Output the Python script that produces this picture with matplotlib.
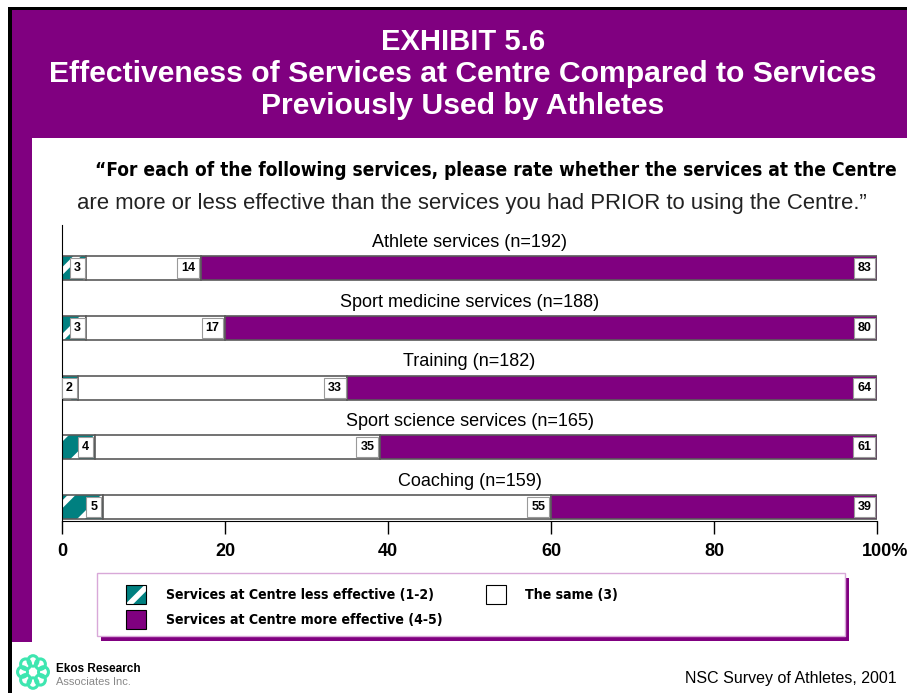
import matplotlib
matplotlib.use("Agg")
import matplotlib.pyplot as plt
from matplotlib.patches import Rectangle, Circle
from matplotlib.transforms import ScaledTranslation
from matplotlib import font_manager
import numpy as np

# data (percent of athletes)
services = ["Athlete services (n=192)", "Sport medicine services (n=188)",
            "Training (n=182)", "Sport science services (n=165)", "Coaching (n=159)"]
less = [3, 3, 2, 4, 5]
same = [14, 17, 33, 35, 55]
more = [83, 80, 64, 61, 39]
ticks = [0, 20, 40, 60, 80, 100]
tick_labels = ["0", "20", "40", "60", "80", "100%"]

PURPLE = "#800080"
TEAL = "#008080"
EDGE = "#5a5a5a"
W, H = 907, 693

plt.rcParams["font.family"] = ["Liberation Sans", "DejaVu Sans"]
plt.rcParams["hatch.color"] = "white"
plt.rcParams["hatch.linewidth"] = 4

# a narrow bold face if one is installed
fonts = font_manager.fontManager.ttflist
narrow = dict(family="Liberation Sans")
if any(f.name == "Liberation Sans Narrow" for f in fonts):
    narrow = dict(family="Liberation Sans Narrow")
elif any(f.name == "DejaVu Sans" and f.stretch == "condensed" for f in fonts):
    narrow = dict(family="DejaVu Sans", stretch="condensed")

fig = plt.figure(figsize=(W / 100, H / 100), dpi=100)


def px(x, y):
    # pixel position (from top-left) -> figure fraction
    return x / W, 1 - y / H


def box(x0, y0, x1, y1, **kw):
    r = Rectangle(px(x0, y1), (x1 - x0) / W, (y1 - y0) / H, transform=fig.transFigure, **kw)
    fig.add_artist(r)
    return r


def fit(t, width):
    r = fig.canvas.get_renderer()
    w = t.get_window_extent(r).width
    t.set_fontsize(t.get_fontsize() * width / w)


# frame
box(8, 7, W, 10, color="black", lw=0)
box(8, 7, 12, H, color="black", lw=0)
box(12, 10, W, 138, color=PURPLE, lw=0)
box(12, 138, 32, 642, color=PURPLE, lw=0)

# titles
fig.text(*px(463, 42), "EXHIBIT 5.6", color="white", fontsize=21, fontweight="bold", ha="center", va="center")
t = fig.text(*px(463, 74), "Effectiveness of Services at Centre Compared to Services", color="white",
             fontsize=21, fontweight="bold", ha="center", va="center")
fit(t, 827)
fig.text(*px(463, 106), "Previously Used by Athletes", color="white", fontsize=t.get_fontsize(),
         fontweight="bold", ha="center", va="center")

t = fig.text(*px(95, 171), "\u201cFor each of the following services, please rate whether the services at the Centre",
             fontsize=15, fontweight="bold", ha="left", va="center", **narrow)
fit(t, 802)
t = fig.text(*px(77, 203), "are more or less effective than the services you had PRIOR to using the Centre.\u201d",
             fontsize=13, ha="left", va="center", color="#222222")
fit(t, 785)

# chart
ax = fig.add_axes([62 / W, 1 - 521 / H, 815 / W, 296 / H])
y = np.arange(len(services))
left_more = np.array(less) + np.array(same)
ax.barh(y, less, height=0.4, color=TEAL, edgecolor="white", hatch="/", lw=0)
ax.barh(y, less, height=0.4, fill=False, edgecolor=EDGE, lw=1.2)
ax.barh(y, same, left=less, height=0.4, color="white", edgecolor=EDGE, lw=1.2)
# purple segment fills the rest of the bar up to 100%
ax.barh(y, 100 - left_more, left=left_more, height=0.4, color=PURPLE, edgecolor=EDGE, lw=1.2)

for i, name in enumerate(services):
    ax.text(50, i - 0.43, name, ha="center", va="center", fontsize=13)
    ends = [less[i], left_more[i], 100]
    for v, e in zip([less[i], same[i], more[i]], ends):
        ax.annotate(str(v), (e, i), xytext=(-4, 0), textcoords="offset points", ha="right", va="center",
                    fontsize=9, fontweight="bold",
                    bbox=dict(boxstyle="square,pad=0.32", fc="white", ec="#9a9a9a", lw=0.8))

ax.set_xlim(0, 100)
ax.set_ylim(4.23, -0.72)
ax.set_yticks([])
ax.set_xticks(ticks)
ax.set_xticklabels(tick_labels, fontsize=13, fontweight="bold")
ax.tick_params(axis="x", direction="out", length=9, width=1, pad=7)
for s in ["top", "right"]:
    ax.spines[s].set_visible(False)
lab = ax.get_xticklabels()[-1]
lab.set_horizontalalignment("left")
lab.set_transform(lab.get_transform() + ScaledTranslation(-0.155, 0, fig.dpi_scale_trans))

# legend
box(101, 578, 849, 641, color=PURPLE, lw=0)
box(97, 573, 845, 636, fc="white", ec="#d8a8d8", lw=1)
box(126, 585, 146, 604, fc=TEAL, ec="white", hatch="/", lw=0)
box(126, 585, 146, 604, fill=False, ec="black", lw=0.8)
box(486, 585, 506, 604, fc="white", ec="black", lw=0.8)
box(126, 610, 146, 629, fc=PURPLE, ec="black", lw=0.8)
t = fig.text(*px(166, 595), "Services at Centre less effective (1-2)", fontsize=10.5, fontweight="bold",
             ha="left", va="center", **narrow)
fit(t, 270)
fs = t.get_fontsize()
fig.text(*px(525, 595), "The same (3)", fontsize=fs, fontweight="bold", ha="left", va="center", **narrow)
fig.text(*px(166, 620), "Services at Centre more effective (4-5)", fontsize=fs, fontweight="bold",
         ha="left", va="center", **narrow)

# footer
lax = fig.add_axes([15 / W, 1 - 691 / H, 36 / W, 38 / H])
lax.set_xlim(-1.2, 1.2)
lax.set_ylim(-1.2, 1.2)
lax.axis("off")
for a in np.linspace(0, 2 * np.pi, 8, endpoint=False):
    lax.add_patch(Circle((0.7 * np.cos(a), 0.7 * np.sin(a)), 0.33, fill=False, ec="#3ee6b0", lw=2.2))
fig.text(*px(56, 669), "Ekos Research", fontsize=8.5, fontweight="bold", ha="left", va="center")
fig.text(*px(56, 682), "Associates Inc.", fontsize=8, color="#888888", ha="left", va="center")
fig.text(*px(685, 679), "NSC Survey of Athletes, 2001", fontsize=11.5, ha="left", va="center")

fig.savefig("out.png", dpi=100)
